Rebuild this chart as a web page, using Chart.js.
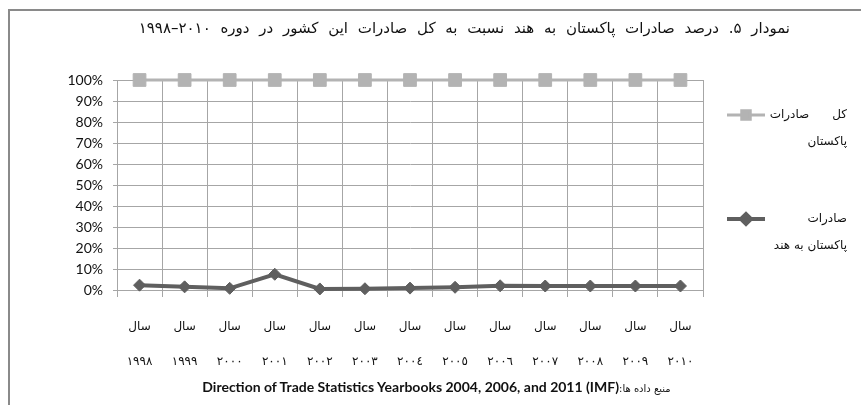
<!DOCTYPE html>
<html lang="fa">
<head>
<meta charset="utf-8">
<script src="https://cdn.jsdelivr.net/npm/chart.js@4.4.1/dist/chart.umd.min.js"></script>
<style>
  html, body { margin: 0; padding: 0; background: #fff; }
  #wrap { position: relative; width: 861px; height: 405px; overflow: hidden; }
  #frame { position: absolute; left: 8px; top: 9px; width: 900px; height: 420px;
           border-left: 2px solid #8a8a8a; border-top: 2px solid #8a8a8a; }
  canvas { position: absolute; left: 0; top: 0; }
  .t { position: absolute; font-family: "DejaVu Sans", sans-serif; color: #111; white-space: nowrap; direction: rtl; }
  #title { right: 71px; top: 19px; font-size: 15px; word-spacing: 5px; }
  .lg { font-size: 12px; text-align: right; right: 14px; }
  #src { left: 0; width: 861px; text-align: center; top: 378px; font-size: 10px; padding-left: 12px; box-sizing: border-box; }
  #src b { font-family: Lato, "Open Sans", sans-serif; font-size: 14px; font-weight: bold; }
</style>
</head>
<body>
<div id="wrap">
  <div id="frame"></div>
  <canvas id="c" width="861" height="405"></canvas>
  <div class="t" id="title">نمودار ۵. درصد صادرات پاکستان به هند نسبت به کل صادرات این کشور در دوره ۲۰۱۰–۱۹۹۸</div>
  <div class="t lg" style="top:107px;">کل&nbsp;&nbsp;&nbsp;&nbsp;&nbsp;&nbsp;صادرات</div>
  <div class="t lg" style="top:134px;">پاکستان</div>
  <div class="t lg" style="top:211px;">صادرات</div>
  <div class="t lg" style="top:238px;">پاکستان به هند</div>
  <div class="t" id="src">منبع داده ها:<b>Direction of Trade Statistics Yearbooks 2004, 2006, and 2011 (IMF)</b></div>
</div>
<script>
const yearLabels = ["۱۹۹۸","۱۹۹۹","۲۰۰۰","۲۰۰۱","۲۰۰۲","۲۰۰۳","۲۰۰٤","۲۰۰٥","۲۰۰٦","۲۰۰۷","۲۰۰۸","۲۰۰۹","۲۰۱۰"];
const yearWord = "سال";
const totalExports = [100,100,100,100,100,100,100,100,100,100,100,100,100];
const exportsToIndia = [2.3,1.5,0.8,7.5,0.5,0.6,0.9,1.3,2.0,1.9,1.9,1.9,1.9];
const seriesNames = ["کل صادرات پاکستان","صادرات پاکستان به هند"];
const yTicks = [0,10,20,30,40,50,60,70,80,90,100];

const colTotal = "#b3b3b3";
const colIndia = "#5f5f5f";

const legendPlugin = {
  id: "sideLegend",
  afterDraw(chart) {
    const ctx = chart.ctx;
    const items = [
      {ds: 0, y: 115, style: "rect", r: 6, lw: 3},
      {ds: 1, y: 219, style: "rectRot", r: 5, lw: 4}
    ];
    items.forEach(it => {
      const d = chart.data.datasets[it.ds];
      ctx.save();
      ctx.strokeStyle = d.borderColor;
      ctx.lineWidth = it.lw;
      ctx.beginPath();
      ctx.moveTo(727, it.y);
      ctx.lineTo(765, it.y);
      ctx.stroke();
      ctx.fillStyle = d.pointBackgroundColor;
      ctx.strokeStyle = d.pointBorderColor;
      Chart.helpers.drawPoint(ctx, {pointStyle: it.style, radius: it.r, borderWidth: 1, rotation: 0}, 746, it.y);
      ctx.restore();
    });
  }
};

new Chart(document.getElementById("c"), {
  type: "line",
  data: {
    labels: yearLabels.map(y => [yearWord, y]),
    datasets: [
      {
        label: seriesNames[0],
        data: totalExports,
        borderColor: colTotal,
        backgroundColor: colTotal,
        pointBackgroundColor: colTotal,
        pointBorderColor: colTotal,
        borderWidth: 3,
        pointStyle: "rect",
        pointRadius: 9,
        pointBorderWidth: 1,
        tension: 0
      },
      {
        label: seriesNames[1],
        data: exportsToIndia,
        borderColor: colIndia,
        backgroundColor: colIndia,
        pointBackgroundColor: colIndia,
        pointBorderColor: colIndia,
        borderWidth: 4,
        pointStyle: "rectRot",
        pointRadius: 6,
        pointBorderWidth: 1,
        tension: 0
      }
    ]
  },
  options: {
    responsive: false,
    animation: false,
    events: [],
    clip: false,
    layout: { padding: { left: 57, right: 158, top: 80, bottom: 0 } },
    plugins: { legend: { display: false }, title: { display: false }, tooltip: { enabled: false } },
    scales: {
      x: {
        type: "category",
        offset: true,
        grid: { offset: true, color: "#a6a6a6", lineWidth: 1, tickLength: 7, drawTicks: true },
        border: { display: true, color: "#a6a6a6" },
        ticks: {
          color: "#111",
          font: { family: "DejaVu Sans", size: 12, lineHeight: 2.95 },
          padding: 12,
          maxRotation: 0,
          autoSkip: false
        },
        afterFit: s => { s.height = 115; }
      },
      y: {
        min: 0,
        max: 100,
        afterBuildTicks: s => { s.ticks = yTicks.map(v => ({value: v})); },
        grid: { color: "#a6a6a6", lineWidth: 1, tickLength: 4 },
        border: { display: true, color: "#a6a6a6" },
        ticks: {
          color: "#111",
          font: { family: "Lato", size: 14 },
          padding: 10,
          callback: v => v + "%"
        },
        afterFit: s => { s.width = 60; }
      }
    }
  },
  plugins: [legendPlugin]
});
</script>
</body>
</html>
